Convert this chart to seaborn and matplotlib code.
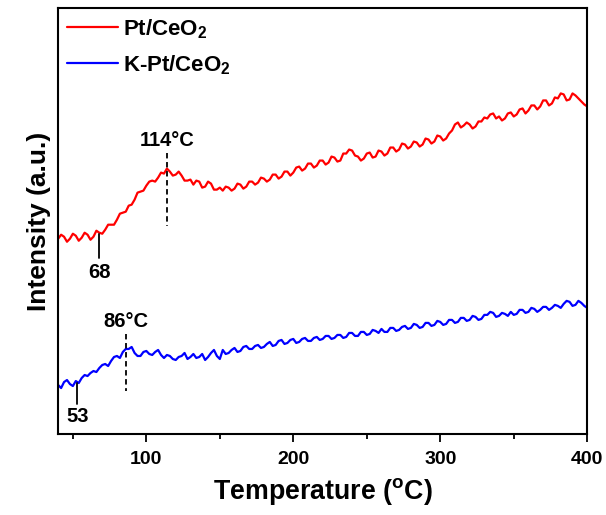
import matplotlib
matplotlib.use('Agg')
import matplotlib.pyplot as plt
from matplotlib.ticker import MultipleLocator
import seaborn as sns
import numpy as np
import pandas as pd

# temperature grid (deg C), one reading every 2 degrees
temperature = np.arange(40, 401, 2)

# signal (a.u.)
pt_ceo2 = [195, 199, 197, 192, 195, 200, 198, 193, 196, 201,
           199, 194, 197, 203, 201, 200, 204, 209, 209, 209,
           214, 220, 221, 222, 228, 229, 234, 241, 242, 243,
           248, 252, 253, 252, 256, 261, 260, 265, 262, 258,
           259, 262, 258, 253, 253, 254, 249, 253, 252, 246,
           247, 252, 250, 244, 244, 246, 243, 247, 246, 243,
           245, 250, 249, 245, 247, 252, 252, 249, 251, 256,
           255, 252, 254, 259, 259, 255, 257, 262, 262, 258,
           261, 266, 267, 263, 265, 270, 270, 266, 268, 273,
           273, 269, 271, 277, 276, 272, 273, 280, 280, 284,
           283, 278, 277, 273, 275, 280, 281, 276, 277, 283,
           282, 278, 280, 286, 286, 282, 284, 290, 289, 285,
           287, 292, 291, 287, 289, 295, 294, 290, 292, 298,
           297, 293, 295, 300, 303, 309, 311, 306, 308, 311,
           309, 305, 307, 312, 312, 316, 315, 319, 320, 315,
           317, 313, 315, 320, 321, 317, 319, 324, 325, 320,
           323, 328, 328, 324, 327, 333, 333, 328, 330, 336,
           335, 340, 339, 333, 334, 340, 338, 335, 332, 329,
           327]
k_pt_ceo2 = [49, 46, 52, 54, 50, 48, 53, 51, 56, 59,
             58, 61, 63, 62, 66, 69, 70, 68, 73, 77,
             78, 76, 82, 85, 85, 87, 81, 78, 78, 82,
             83, 80, 79, 82, 84, 79, 76, 79, 78, 75,
             74, 77, 78, 81, 75, 77, 80, 76, 77, 80,
             74, 77, 81, 84, 78, 75, 84, 80, 81, 84,
             86, 82, 83, 87, 88, 85, 85, 88, 89, 86,
             87, 90, 92, 88, 89, 93, 94, 90, 91, 94,
             95, 91, 92, 95, 96, 93, 93, 96, 97, 94,
             95, 98, 98, 95, 96, 99, 99, 96, 97, 101,
             101, 98, 98, 102, 102, 99, 100, 104, 103, 101,
             105, 102, 102, 106, 106, 103, 104, 107, 108, 105,
             106, 110, 109, 106, 107, 111, 111, 108, 109, 113,
             112, 109, 110, 114, 114, 111, 112, 116, 116, 113,
             114, 118, 117, 114, 115, 119, 119, 122, 121, 117,
             118, 121, 120, 118, 122, 119, 120, 124, 124, 121,
             122, 126, 125, 122, 124, 127, 127, 124, 126, 129,
             128, 126, 130, 133, 132, 128, 129, 133, 131, 128,
             126]

# marked temperatures
onset_t = [68, 53]
peak_t = [114, 86]

labels = ['Pt/CeO$_\\mathbf{2}$', 'K-Pt/CeO$_\\mathbf{2}$']
df = pd.DataFrame({
    'T': np.concatenate([temperature, temperature]),
    'I': pt_ceo2 + k_pt_ceo2,
    'sample': [labels[0]] * len(temperature) + [labels[1]] * len(temperature),
})

sns.set_style('ticks')
plt.rcParams['font.family'] = ['Liberation Sans', 'DejaVu Sans']
plt.rcParams['font.weight'] = 'bold'
plt.rcParams['mathtext.fontset'] = 'custom'
plt.rcParams['mathtext.rm'] = 'Liberation Sans:bold'
plt.rcParams['mathtext.bf'] = 'Liberation Sans:bold'
plt.rcParams['mathtext.it'] = 'Liberation Sans:bold'
for key in ['text.color', 'axes.labelcolor', 'xtick.color', 'ytick.color', 'axes.edgecolor']:
    plt.rcParams[key] = 'black'

fig = plt.figure(figsize=(6.06, 5.15), dpi=100)
ax = fig.add_axes([0.096, 0.157, 0.873, 0.827])

sns.lineplot(data=df, x='T', y='I', hue='sample',
             palette=['#ff0000', '#0000ff'], linewidth=1.6, ax=ax)

# onset markers (solid) and peak markers (dashed)
ax.plot([onset_t[0], onset_t[0]], [200, 176], color='black', lw=1.3)
ax.text(onset_t[0], 171, '68', ha='center', va='top', fontsize=14.5, fontweight='bold')
ax.plot([peak_t[0], peak_t[0]], [281, 208], color='black', lw=1.3, ls=(0, (3, 2)))
ax.text(peak_t[0], 284, '114°C', ha='center', va='bottom', fontsize=14.5, fontweight='bold')

ax.plot([onset_t[1], onset_t[1]], [51, 30], color='black', lw=1.3)
ax.text(onset_t[1], 27, '53', ha='center', va='top', fontsize=14.5, fontweight='bold')
ax.plot([peak_t[1], peak_t[1]], [100, 43], color='black', lw=1.3, ls=(0, (3, 2)))
ax.text(peak_t[1], 103, '86°C', ha='center', va='bottom', fontsize=14.5, fontweight='bold')

ax.set_xlim(40, 400)
ax.set_ylim(0, 425)
ax.xaxis.set_major_locator(MultipleLocator(100))
ax.xaxis.set_minor_locator(MultipleLocator(50))
ax.set_yticks([])
ax.tick_params(axis='x', which='major', direction='out', length=5.5, width=1.3,
               labelsize=14, pad=6.5)
ax.tick_params(axis='x', which='minor', direction='out', length=3.5, width=1.3)
for lab in ax.get_xticklabels():
    lab.set_fontweight('bold')
for s in ax.spines.values():
    s.set_visible(True)
    s.set_linewidth(1.5)

ax.set_xlabel('Temperature ($^{o}$C)', fontsize=19.3, fontweight='bold', labelpad=6)
ax.set_ylabel('Intensity (a.u.)', fontsize=19, fontweight='bold', labelpad=5)

leg = ax.legend(loc='upper left', frameon=False, fontsize=16, handlelength=2.3,
                labelspacing=0.55, borderaxespad=0.0, handletextpad=0.2)
for line in leg.get_lines():
    line.set_linewidth(1.6)

fig.savefig('out.png', dpi=100)
plt.close(fig)
